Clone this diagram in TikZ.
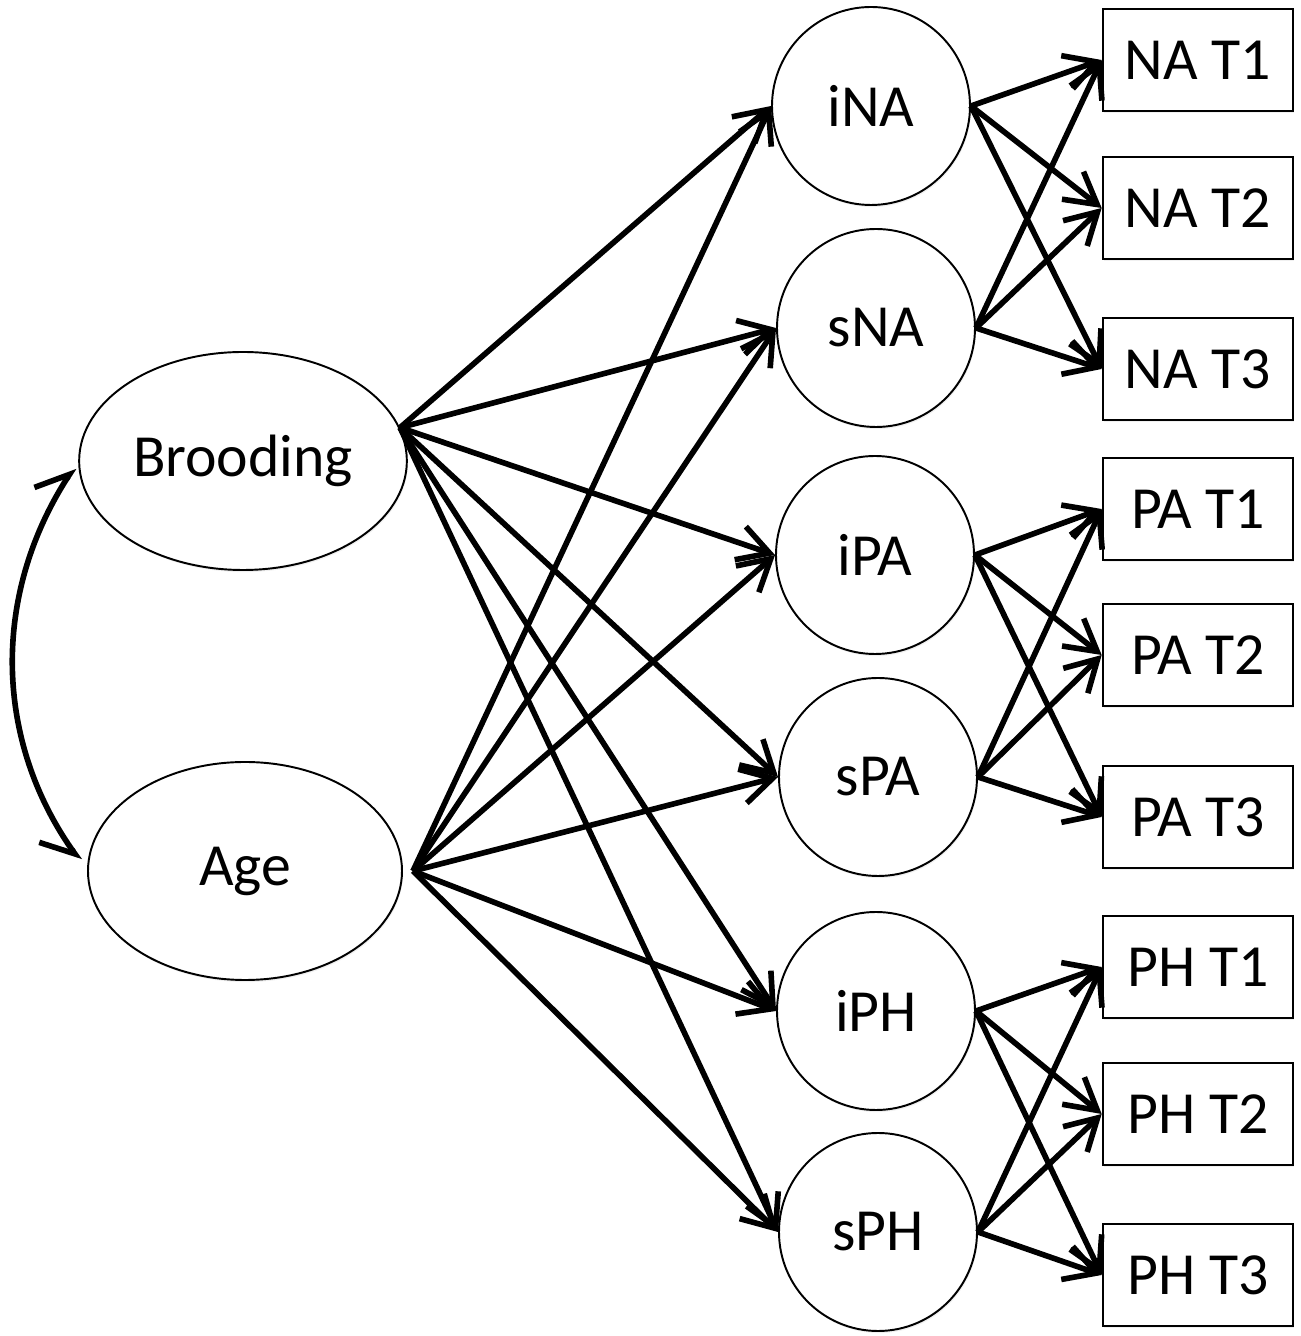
\documentclass[tikz,border=0pt]{standalone}
\usepackage{fontspec}
\setmainfont{Carlito}
\usetikzlibrary{positioning,arrows.meta,shapes.geometric,shadows}

\begin{document}
\begin{tikzpicture}[font=\fontsize{34}{40}\selectfont,
  >={Straight Barb[length=6.2mm,width=7mm]},
  link/.style={->,line width=3.2pt},
  obs/.style={ellipse,draw,line width=1.1pt,fill=white,minimum width=6.28cm,minimum height=4.36cm,
    drop shadow={opacity=0.12,shadow xshift=0.6pt,shadow yshift=-1.2pt}},
  latent/.style={circle,draw,line width=1.1pt,fill=white,minimum size=3.96cm,
    drop shadow={opacity=0.12,shadow xshift=0.6pt,shadow yshift=-1.2pt}},
  ind/.style={rectangle,draw,line width=1.5pt,fill=white,minimum width=3.8cm,minimum height=2.04cm,
    drop shadow={opacity=0.12,shadow xshift=0.6pt,shadow yshift=-1.2pt}}]
\useasboundingbox (0,0) rectangle (26.02,26.72);
% ---------- predictors ----------
\node[obs] (brood) at (4.86,17.50) {Brooding};
\node[obs] (age) at (4.90,9.30) {Age};
% ---------- growth factors ----------
\node[latent] (iNA) at (17.42,24.60) {iNA};
\node[latent] (sNA) at (17.52,20.16) {sNA};
\node[latent] (iPA) at (17.50,15.62) {iPA};
\node[latent] (sPA) at (17.56,11.18) {sPA};
\node[latent] (iPH) at (17.52,6.50) {iPH};
\node[latent] (sPH) at (17.56,2.08) {sPH};
% ---------- indicators ----------
\node[ind] (NAt1) at (23.96,25.52) {NA T1};
\node[ind] (NAt2) at (23.96,22.56) {NA T2};
\node[ind] (NAt3) at (23.96,19.34) {NA T3};
\node[ind] (PAt1) at (23.96,16.54) {PA T1};
\node[ind] (PAt2) at (23.96,13.62) {PA T2};
\node[ind] (PAt3) at (23.96,10.38) {PA T3};
\node[ind] (PHt1) at (23.96,7.38) {PH T1};
\node[ind] (PHt2) at (23.96,4.44) {PH T2};
\node[ind] (PHt3) at (23.96,1.22) {PH T3};
% ---------- paths ----------
\foreach \f in {iNA,sNA,iPA,sPA,iPH,sPH}{
  \draw[link] (brood.12) -- (\f.west);
  \draw[link] ([xshift=2mm]age.east) -- (\f.west);
}
\foreach \g in {NA,PA,PH}
  \foreach \k in {1,2,3}{
    \draw[link] (i\g.east) -- (\g t\k.west);
    \draw[link] (s\g.east) -- (\g t\k.west);
  }
% covariance
\draw[{Straight Barb[right,length=6mm,width=9mm]}-{Straight Barb[left,length=6mm,width=9mm]},
  line width=3.2pt,shorten <=2.5mm,shorten >=1.5mm] (age.west) to[bend left=34] (brood.west);
\end{tikzpicture}
\end{document}
